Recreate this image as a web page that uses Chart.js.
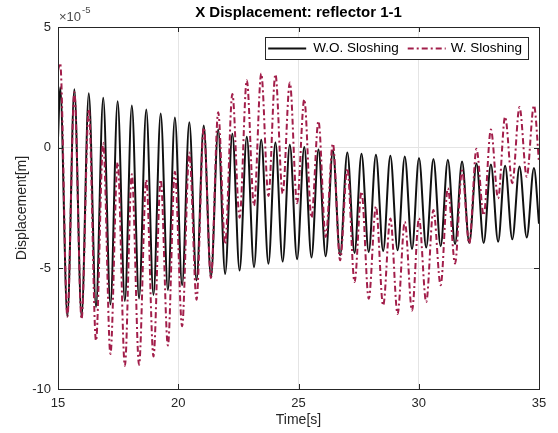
<!DOCTYPE html>
<html>
<head>
<meta charset="utf-8">
<script src="https://cdn.jsdelivr.net/npm/chart.js@4.4.0/dist/chart.umd.min.js"></script>
<style>
  html, body { margin: 0; padding: 0; background: #fff; }
</style>
</head>
<body>
<canvas id="grafico" width="558" height="433"></canvas>
<script>
// times (s) of the peaks and troughs
const tPeak = [15.09, 15.68, 16.28, 16.88, 17.48, 18.07, 18.67, 19.27, 19.86, 20.46,
  21.06, 21.66, 22.25, 22.85, 23.45, 24.04, 24.64, 25.24, 25.83, 26.43,
  27.03, 27.62, 28.22, 28.82, 29.42, 30.01, 30.61, 31.21, 31.80, 32.40,
  33.00, 33.59, 34.19, 34.79];
const tTrough = [15.39, 15.98, 16.58, 17.18, 17.78, 18.37, 18.97, 19.57, 20.16, 20.76,
  21.36, 21.95, 22.55, 23.15, 23.75, 24.34, 24.94, 25.54, 26.13, 26.73,
  27.33, 27.92, 28.52, 29.12, 29.72, 30.31, 30.91, 31.51, 32.10, 32.70,
  33.30, 33.89, 34.49];

// displacement in units of 1e-5 m
const woStart = 0.4, woEnd = -3.15;
const woPeak = [2.5, 2.42, 2.25, 2.07, 1.92, 1.75, 1.58, 1.42, 1.25, 1.05,
  0.92, 0.75, 0.58, 0.45, 0.33, 0.21, 0.12, 0.03, -0.08, -0.12,
  -0.2, -0.25, -0.29, -0.33, -0.37, -0.43, -0.47, -0.5, -0.57, -0.66,
  -0.7, -0.75, -0.78, -0.84];
const woTrough = [-7.0, -7.0, -6.6, -6.5, -6.35, -6.25, -6.1, -5.9, -5.7, -5.5,
  -5.37, -5.23, -5.09, -4.95, -4.81, -4.72, -4.62, -4.55, -4.5, -4.46,
  -4.36, -4.32, -4.28, -4.25, -4.2, -4.14, -4.08, -4.0, -3.95, -3.95,
  -3.9, -3.8, -3.72];

const wStart = 3.2, wEnd = -0.6;
const wPeak = [3.5, 2.3, 1.6, 0.2, -0.6, -1.1, -1.33, -1.33, -1.0, -0.2,
  0.83, 1.47, 2.22, 2.79, 3.07, 3.04, 2.7, 2.0, 1.1, 0.17,
  -0.85, -1.82, -2.44, -2.93, -3.07, -2.93, -2.58, -1.68, -0.95, -0.05,
  0.75, 1.28, 1.68, 1.75];
const wTrough = [-7.0, -7.1, -8.0, -8.55, -9.04, -9.0, -8.65, -8.2, -7.4, -6.3,
  -5.4, -4.0, -2.9, -2.4, -2.0, -1.9, -2.3, -2.9, -3.7, -4.67,
  -5.57, -6.26, -6.54, -6.89, -6.75, -6.4, -5.7, -4.8, -3.97, -2.8,
  -2.1, -1.47, -1.2];

const xTicks = [15, 20, 25, 30, 35];
const yTicks = [-10, -5, 0, 5];
const seriesLabels = ['W.O. Sloshing', 'W. Sloshing'];
const chartTitle = 'X Displacement: reflector 1-1';

function buildSeries(start, peaks, troughs, end) {
  const pts = [{ x: xTicks[0], y: start }];
  for (let k = 0; k < tPeak.length; k++) {
    pts.push({ x: tPeak[k], y: peaks[k] });
    if (k < tTrough.length) pts.push({ x: tTrough[k], y: troughs[k] });
  }
  pts.push({ x: xTicks[xTicks.length - 1], y: end });
  return pts;
}

const axisColor = '#262626';
const font = '"Liberation Sans", Arial, Helvetica, sans-serif';

// box, inward ticks, title, exponent and legend, MATLAB style
const matlabFrame = {
  id: 'matlabFrame',
  afterDraw(chart) {
    const ctx = chart.ctx;
    const a = chart.chartArea;
    const sx = chart.scales.x, sy = chart.scales.y;
    ctx.save();

    ctx.strokeStyle = axisColor;
    ctx.lineWidth = 1;
    ctx.setLineDash([]);
    ctx.beginPath();
    xTicks.forEach(v => {
      const px = Math.round(sx.getPixelForValue(v)) + 0.5;
      ctx.moveTo(px, a.bottom); ctx.lineTo(px, a.bottom - 5);
      ctx.moveTo(px, a.top); ctx.lineTo(px, a.top + 5);
    });
    yTicks.forEach(v => {
      const py = Math.round(sy.getPixelForValue(v)) + 0.5;
      ctx.moveTo(a.left, py); ctx.lineTo(a.left + 5, py);
      ctx.moveTo(a.right, py); ctx.lineTo(a.right - 5, py);
    });
    ctx.stroke();
    ctx.strokeRect(Math.round(a.left) + 0.5, Math.round(a.top) + 0.5,
      Math.round(a.right - a.left), Math.round(a.bottom - a.top));

    // title
    ctx.fillStyle = '#000';
    ctx.font = 'bold 15px ' + font;
    ctx.textAlign = 'center';
    ctx.textBaseline = 'middle';
    ctx.fillText(chartTitle, (a.left + a.right) / 2, 13);

    // exponent
    ctx.fillStyle = '#4a4a4a';
    ctx.textAlign = 'left';
    ctx.textBaseline = 'alphabetic';
    ctx.font = '13px ' + font;
    ctx.fillText('\u00d710', a.left + 1, 21);
    const w10 = ctx.measureText('\u00d710').width;
    ctx.font = '9.5px ' + font;
    ctx.fillText('-5', a.left + 1 + w10 + 1, 13);

    // legend
    const ds = chart.data.datasets;
    ctx.font = '13.5px ' + font;
    const lineLen = 38;
    const widths = ds.map(d => ctx.measureText(d.label).width);
    const boxRight = 528, boxTop = 37, boxH = 22;
    const boxW = 3 + lineLen + 7 + widths[0] + 9 + lineLen + 5 + widths[1] + 6;
    const boxLeft = boxRight - boxW;
    ctx.fillStyle = '#fff';
    ctx.fillRect(boxLeft, boxTop, boxW, boxH);
    ctx.strokeStyle = axisColor;
    ctx.lineWidth = 1;
    ctx.strokeRect(Math.round(boxLeft) + 0.5, boxTop + 0.5, Math.round(boxW), boxH);
    let x = boxLeft + 3;
    const cy = boxTop + boxH / 2 + 0.5;
    ds.forEach((d, i) => {
      ctx.strokeStyle = d.borderColor;
      ctx.lineWidth = d.borderWidth;
      ctx.setLineDash(d.borderDash || []);
      ctx.beginPath();
      ctx.moveTo(x, cy); ctx.lineTo(x + lineLen, cy);
      ctx.stroke();
      ctx.setLineDash([]);
      x += lineLen + (i === 0 ? 7 : 5);
      ctx.fillStyle = '#000';
      ctx.textBaseline = 'middle';
      ctx.fillText(d.label, x, cy);
      x += widths[i] + 9;
    });
    ctx.restore();
  }
};

const ctx = document.getElementById('grafico').getContext('2d');
const chart = new Chart(ctx, {
  type: 'line',
  data: {
    datasets: [
      {
        label: seriesLabels[0],
        data: buildSeries(woStart, woPeak, woTrough, woEnd),
        borderColor: '#111111',
        borderWidth: 2,
        pointRadius: 0,
        fill: false,
        cubicInterpolationMode: 'monotone',
        order: 1
      },
      {
        label: seriesLabels[1],
        data: buildSeries(wStart, wPeak, wTrough, wEnd),
        borderColor: '#A21E4A',
        borderWidth: 2,
        borderDash: [6, 3, 2, 3],
        pointRadius: 0,
        fill: false,
        cubicInterpolationMode: 'monotone',
        order: 0
      }
    ]
  },
  options: {
    responsive: false,
    animation: false,
    layout: { padding: { left: 10, top: 27, right: 19, bottom: 0 } },
    scales: {
      x: {
        type: 'linear',
        min: 15,
        max: 35,
        afterBuildTicks: s => { s.ticks = xTicks.map(v => ({ value: v })); },
        afterFit: s => { s.height = 44; },
        ticks: { color: axisColor, font: { size: 13, family: font }, padding: 7, maxRotation: 0 },
        grid: { color: '#e4e4e4', drawTicks: false },
        border: { display: false },
        title: { display: true, text: 'Time[s]', color: axisColor, font: { size: 14, family: font }, padding: { top: 2, bottom: 4 } }
      },
      y: {
        min: -10,
        max: 5,
        afterBuildTicks: s => { s.ticks = yTicks.map(v => ({ value: v })); },
        afterFit: s => { s.width = 48; },
        ticks: { color: axisColor, font: { size: 13, family: font }, padding: 7 },
        grid: { color: '#e4e4e4', drawTicks: false },
        border: { display: false },
        title: { display: true, text: 'Displacement[m]', color: axisColor, font: { size: 14, family: font }, padding: { top: 4, bottom: 2 } }
      }
    },
    plugins: {
      legend: { display: false },
      tooltip: { enabled: false },
      title: { display: false }
    }
  },
  plugins: [matlabFrame]
});
</script>
</body>
</html>
